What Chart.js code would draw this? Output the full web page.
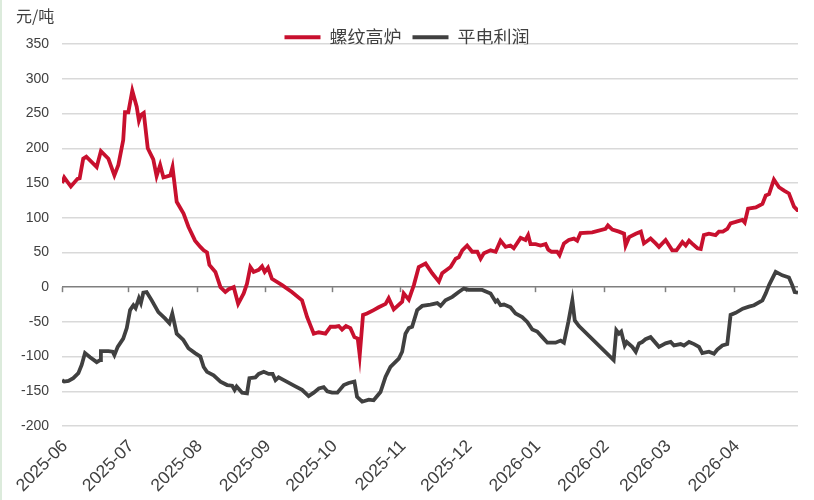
<!DOCTYPE html>
<html>
<head>
<meta charset="utf-8">
<script src="https://cdn.jsdelivr.net/npm/chart.js@4.4.1/dist/chart.umd.min.js"></script>
<style>
  html, body { margin: 0; padding: 0; background: #ffffff; }
  #wrap { position: relative; width: 814px; height: 500px; }
  #edge { position: absolute; left: 0; top: 0; width: 2px; height: 500px; background: #dcebdc; }
  canvas { display: block; }
</style>
</head>
<body>
<div id="wrap"><canvas id="c" width="814" height="500"></canvas><div id="edge"></div></div>
<script>
// Month tick labels and their day offsets from 2025-06-01
const monthLabels = ['2025-06','2025-07','2025-08','2025-09','2025-10','2025-11','2025-12','2026-01','2026-02','2026-03','2026-04'];
const monthDays   = [0, 30, 61, 92, 122, 153, 183, 214, 245, 273, 304];

const seriesNames = ['螺纹高炉', '平电利润'];

// 螺纹高炉 (days from 2025-06-01, 元/吨)
const redDays = [0,1,4,7,8,9.6,11,15.7,17.6,21,23.7,25.5,27.7,28.5,30,31.8,33.8,34.8,35.7,37,38.8,41.3,42.8,44.4,45.9,49,50,51.9,55,57.2,60.2,62.6,64.1,65.6,66.7,69.4,71.7,73.9,75.4,77.7,79.7,82.2,83.7,85.2,86.7,89,90.5,91.7,93.2,95,99.6,104,108.6,110.9,112.4,113.9,116.2,119.2,121.5,123.7,125.2,126.7,128.5,130.5,132.3,133.8,134.7,136.2,138,141,143.3,146.4,147.8,150.1,153.9,154.6,156.9,159.2,161.4,164.5,167.5,170.5,172,175.8,178.1,179.5,181.1,183.3,185.6,187.9,189.4,190.9,193.9,196.2,198.4,200.7,202.9,204.4,207.5,209.7,210.9,212,214.3,216.5,218.8,220,221.5,224,225.1,227.1,229.3,231.6,233.1,234.6,239.9,245.9,247,249,252,254.3,255,256.6,259.6,261.9,263.3,266.3,268.6,270.1,273.1,276.1,278,280.7,282.2,283.7,285,287.5,289,290.4,292.7,295.7,297.2,299,301,302.5,304.8,307.8,308.9,310.4,313.9,316.9,318.4,319.9,322.1,324.4,326.7,328.9,331.2,332.7,333];
const redValues = [150,158,145,156,157,185,188,173,196,185,161,176,212,252,252,283,260,240,248,251,200,184,160,176,158,161,173,123,106,87,67,58,53,50,32,22,0,-7,-3,0,-24,-9,5,29,22,25,30,22,28,12,3,-7,-19,-43,-55,-67,-65,-67,-57,-57,-56,-61,-56,-59,-72,-74,-98,-40,-38,-33,-29,-24,-16,-32,-21,-9,-18,3,29,34,20,8,20,29,41,43,53,60,51,51,41,49,53,51,67,58,60,56,71,68,75,62,62,60,62,54,51,51,46,63,68,70,67,78,79,84,89,83,80,77,60,72,77,80,63,70,63,58,68,53,53,65,60,67,63,56,55,75,77,75,80,80,84,92,94,97,93,113,115,120,132,134,155,144,139,135,116,111,111];

// 平电利润 (days from 2025-06-01, 元/吨)
const darkDays = [0,1,2.9,5.1,7.4,8.9,10.4,12.7,15.7,17.2,17.6,21,22.9,23.7,25.2,27.7,29.3,30.8,32.3,33.3,34.8,35.7,36.8,38.3,40.6,43.6,46.6,48.6,49.9,51.9,54.9,57.2,60.2,62.6,64.1,65.6,68.6,71.7,74.7,77,78.1,79,81.5,83.7,84.8,87.5,89,91.3,93.5,95.3,96.6,98,101,105.6,108.6,111.6,113.9,116.2,118.4,120,122.2,124.6,127.5,129.7,132.3,133.5,135.8,138.8,141,144.1,146.4,148.6,152.4,153.9,155.4,156.9,158.4,160.7,163,166.7,169.8,171.3,173.5,176.6,179.5,181.8,184,187,190.1,193.9,196.2,197,198.4,200,202.9,205.2,208.2,210.5,212.8,215,217.3,219.6,223.3,225.6,227.1,229.1,230.9,232,233.9,249.6,250.8,252,253,254.6,255.5,258,259.6,261.1,262.5,264,266.3,270.1,273.1,275.4,276.9,279.9,281.4,283.7,286,288.2,289.7,292.7,295,296.5,298.8,301,302.5,304.8,308,310.8,313.1,316.9,318.4,319.9,322.9,325.9,328.9,330.4,331.5,333];
const darkValues = [-134,-136,-135,-131,-124,-112,-95,-101,-108,-105,-92,-92,-93,-98,-86,-74,-59,-33,-26,-30,-16,-23,-8,-7,-19,-36,-45,-52,-38,-67,-76,-88,-95,-100,-115,-122,-127,-136,-141,-142,-148,-143,-152,-153,-131,-130,-125,-122,-125,-125,-134,-130,-135,-143,-148,-157,-152,-146,-144,-150,-152,-152,-141,-138,-136,-158,-165,-162,-163,-151,-129,-115,-103,-93,-67,-59,-57,-33,-27,-25,-23,-27,-19,-14,-7,-2,-4,-4,-4,-9,-21,-19,-26,-25,-29,-38,-43,-50,-61,-64,-72,-80,-80,-77,-80,-50,-19,-48,-56,-105,-62,-67,-64,-84,-79,-86,-93,-81,-79,-75,-72,-86,-81,-79,-84,-82,-84,-79,-82,-86,-95,-93,-96,-90,-84,-82,-40,-37,-31,-28,-26,-19,-9,3,22,17,14,3,-7,-8];

const yTicks = [-200,-150,-100,-50,0,50,100,150,200,250,300,350];

const RED = '#c8102e';
const DARK = '#404040';
const FONT = '"Liberation Sans", "Noto Sans CJK SC", Arial, sans-serif';
const CJK = '"Noto Sans CJK SC", "Liberation Sans", sans-serif';

const toPts = (xs, ys) => xs.map((d, i) => ({ x: d, y: ys[i] }));

const zeroTicks = {
  id: 'zeroTicks',
  beforeDatasetsDraw(chart) {
    const { ctx, scales: { x, y } } = chart;
    const y0 = y.getPixelForValue(0);
    ctx.save();
    ctx.strokeStyle = '#7f7f7f';
    ctx.lineWidth = 1.5;
    monthDays.forEach(d => {
      const px = Math.round(x.getPixelForValue(d)) + 0.5;
      ctx.beginPath();
      ctx.moveTo(px, y0);
      ctx.lineTo(px, y0 + 5);
      ctx.stroke();
    });
    ctx.restore();
  }
};

const legendShrink = {
  id: 'legendShrink',
  beforeInit(chart) {
    if (!chart.legend) return;
    const orig = chart.legend.fit;
    chart.legend.fit = function () {
      orig.call(this);
      this.height -= 12;
    };
  }
};

new Chart(document.getElementById('c'), {
  type: 'line',
  data: {
    datasets: [
      { label: seriesNames[0], data: toPts(redDays, redValues), borderColor: RED, backgroundColor: RED, borderWidth: 3.8, pointRadius: 0, tension: 0, fill: false },
      { label: seriesNames[1], data: toPts(darkDays, darkValues), borderColor: DARK, backgroundColor: DARK, borderWidth: 3.8, pointRadius: 0, tension: 0, fill: false }
    ]
  },
  options: {
    responsive: false,
    animation: false,
    devicePixelRatio: 1,
    layout: { padding: { left: 16, right: 16, top: 0, bottom: 0 } },
    plugins: {
      tooltip: { enabled: false },
      title: {
        display: true, text: '元/吨', align: 'start', color: '#404040',
        font: { family: CJK, size: 16, weight: 'normal' },
        padding: { top: 6, bottom: -8 }
      },
      legend: {
        display: true, position: 'top', align: 'center',
        labels: {
          color: '#404040', font: { family: CJK, size: 18 }, boxWidth: 36, boxHeight: 4, padding: 11,
          generateLabels(chart) {
            return chart.data.datasets.map((ds, i) => ({
              text: ds.label, fillStyle: ds.borderColor, strokeStyle: ds.borderColor, lineWidth: 0,
              hidden: false, datasetIndex: i, fontColor: '#404040'
            }));
          }
        }
      }
    },
    scales: {
      x: {
        type: 'linear', min: 0, max: 333,
        grid: { display: false },
        border: { display: false },
        afterBuildTicks(scale) { scale.ticks = monthDays.map(v => ({ value: v })); },
        afterFit(scale) { scale.height = 74; scale.paddingLeft = 0; scale.paddingRight = 0; },
        ticks: {
          autoSkip: false, minRotation: 45, maxRotation: 45, padding: 2, labelOffset: 3,
          color: '#404040', font: { family: FONT, size: 17.5 },
          callback(v) { const i = monthDays.indexOf(v); return i >= 0 ? monthLabels[i] : ''; }
        }
      },
      y: {
        min: -200, max: 350,
        afterBuildTicks(scale) { scale.ticks = yTicks.map(v => ({ value: v })); },
        afterFit(scale) { scale.width = 46; },
        grid: {
          drawTicks: false,
          color: ctx => (ctx.tick && ctx.tick.value === 0) ? '#7f7f7f' : '#d9d9d9',
          lineWidth: 1.5
        },
        border: { display: false },
        ticks: { padding: 13, color: '#404040', font: { family: FONT, size: 14 } }
      }
    }
  },
  plugins: [zeroTicks, legendShrink]
});
</script>
</body>
</html>
